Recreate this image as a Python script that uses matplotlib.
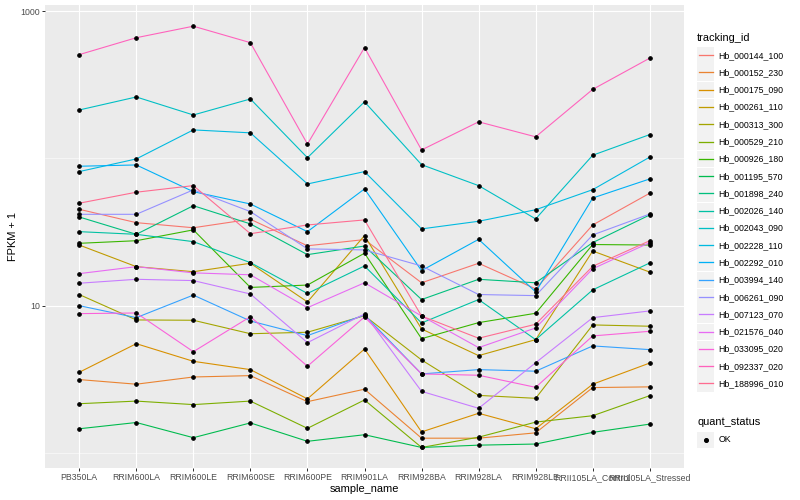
import numpy as np
import matplotlib
matplotlib.use("Agg")
import matplotlib.pyplot as plt
from matplotlib.lines import Line2D
from matplotlib.patches import Rectangle
from matplotlib.legend_handler import HandlerBase
from matplotlib.ticker import NullFormatter

plt.rcParams['font.family'] = ['Liberation Sans', 'DejaVu Sans']

samples = ["PB350LA", "RRIM600LA", "RRIM600LE", "RRIM600SE", "RRIM600PE", "RRIM901LA",
           "RRIM928BA", "RRIM928LA", "RRIM928LE", "RRII105LA_Control", "RRII105LA_Stressed"]

tracking_ids = ["Hb_000144_100", "Hb_000152_230", "Hb_000175_090", "Hb_000261_110",
                "Hb_000313_300", "Hb_000529_210", "Hb_000926_180", "Hb_001195_570",
                "Hb_001898_240", "Hb_002026_140", "Hb_002043_090", "Hb_002228_110",
                "Hb_002292_010", "Hb_003994_140", "Hb_006261_090", "Hb_007123_070",
                "Hb_021576_040", "Hb_033095_020", "Hb_092337_020", "Hb_188996_010"]

# FPKM + 1 per gene, same order as samples
hb_000144_100 = [45.1, 36.6, 33.8, 38.6, 25.5, 28.1, 14.3, 19.4, 13.0, 35.3, 58.0]
hb_000152_230 = [3.15, 2.93, 3.28, 3.35, 2.23, 2.71, 1.26, 1.26, 1.37, 2.78, 2.81]
hb_000175_090 = [3.53, 5.52, 4.19, 3.68, 2.33, 5.08, 1.39, 1.86, 1.46, 2.93, 4.08]
hb_000261_110 = [25.8, 18.4, 17.0, 19.4, 10.6, 29.9, 6.95, 4.58, 5.88, 23.5, 16.9]
hb_000313_300 = [11.9, 8.0, 7.96, 6.45, 6.60, 8.55, 4.28, 2.46, 2.35, 7.40, 7.25]
hb_000529_210 = [2.16, 2.25, 2.13, 2.25, 1.47, 2.29, 1.09, 1.28, 1.62, 1.79, 2.45]
hb_000926_180 = [26.5, 27.6, 32.7, 13.3, 13.8, 22.7, 5.97, 7.67, 8.88, 26.0, 25.8]
hb_001195_570 = [1.46, 1.61, 1.27, 1.60, 1.20, 1.33, 1.09, 1.13, 1.15, 1.38, 1.57]
hb_001898_240 = [40.0, 30.5, 47.7, 35.9, 22.2, 25.4, 11.0, 15.1, 14.3, 26.8, 41.3]
hb_002026_140 = [31.8, 30.5, 27.2, 19.6, 12.1, 18.6, 7.63, 11.0, 5.88, 12.8, 19.5]
hb_002043_090 = [213, 261, 197, 253, 101, 242, 90.6, 65.3, 38.8, 105, 145]
hb_002228_110 = [81.3, 99.1, 156, 149, 67.0, 81.3, 33.2, 37.4, 44.8, 61.3, 102]
hb_002292_010 = [88.4, 90.2, 59.4, 49.0, 31.8, 62.0, 17.3, 28.2, 12.4, 53.8, 72.5]
hb_003994_140 = [10.0, 8.29, 11.8, 7.87, 6.26, 8.65, 3.44, 3.68, 3.59, 5.33, 5.03]
hb_006261_090 = [41.7, 41.7, 61.1, 43.5, 24.3, 23.9, 18.6, 11.9, 11.7, 30.2, 41.9]
hb_007123_070 = [14.2, 15.1, 14.8, 12.0, 5.61, 8.78, 2.62, 2.01, 4.10, 8.29, 9.21]
hb_021576_040 = [16.5, 18.4, 16.7, 16.2, 9.69, 14.3, 8.51, 5.19, 7.06, 17.8, 26.8]
hb_033095_020 = [8.83, 8.92, 4.87, 8.42, 3.88, 8.38, 3.44, 3.37, 2.79, 6.23, 6.70]
hb_092337_020 = [506, 659, 789, 610, 125, 565, 114, 177, 140, 294, 479]
hb_188996_010 = [49.6, 58.9, 65.3, 30.8, 35.3, 38.2, 8.51, 6.01, 7.48, 18.5, 27.6]

series = [hb_000144_100, hb_000152_230, hb_000175_090, hb_000261_110, hb_000313_300,
          hb_000529_210, hb_000926_180, hb_001195_570, hb_001898_240, hb_002026_140,
          hb_002043_090, hb_002228_110, hb_002292_010, hb_003994_140, hb_006261_090,
          hb_007123_070, hb_021576_040, hb_033095_020, hb_092337_020, hb_188996_010]

quant_status = ["OK"]

# ggplot hue palette, 20 levels
palette = ["#F8766D", "#EA8331", "#D89000", "#C09B00", "#A3A500", "#7CAE00", "#39B600",
           "#00BB4E", "#00BF7D", "#00C1A3", "#00BFC4", "#00BAE0", "#00B0F6", "#35A2FF",
           "#9590FF", "#C77CFF", "#E76BF3", "#FA62DB", "#FF62BC", "#FF6C91"]


class KeyHandler(HandlerBase):
    # grey key box like ggplot legends
    def create_artists(self, legend, orig_handle, xdescent, ydescent, width, height, fontsize, trans):
        bg = Rectangle((-xdescent, -ydescent), width, height - 0.6, facecolor='#F2F2F2',
                       edgecolor='none', transform=trans, zorder=1)
        yc = -ydescent + height / 2
        if orig_handle.get_linestyle() == 'None':
            art = Line2D([-xdescent + width / 2], [yc], ls='none', marker='o', ms=4,
                         color='black', transform=trans, zorder=5)
        else:
            art = Line2D([-xdescent + width * 0.1, -xdescent + width * 0.9], [yc, yc],
                         color=orig_handle.get_color(), lw=1.3, transform=trans, zorder=5)
        return [bg, art]


fig = plt.figure(figsize=(800 / 72, 500 / 72), dpi=72)
ax = fig.add_axes([45 / 800, 32 / 500, 639 / 800, 463 / 500])
ax.set_facecolor('#EBEBEB')

x = np.arange(len(samples))
handles = []
for vals, col in zip(series, palette):
    ln, = ax.plot(x, vals, color=col, lw=1.1, zorder=2)
    handles.append(ln)
for vals in series:
    ax.plot(x, vals, ls='none', marker='o', ms=3.6, color='black', zorder=3)

ax.set_yscale('log')
ax.set_ylim(10 ** -0.102, 10 ** 3.041)
ax.set_xlim(-0.6, 10.6)
ax.set_xticks(x, samples)
ax.set_yticks([10, 1000], ['10', '1000'])
ax.set_yticks([1, 100], minor=True)
ax.yaxis.set_minor_formatter(NullFormatter())
ax.grid(which='major', color='white', lw=1.1)
ax.grid(which='minor', axis='y', color='white', lw=0.55)
ax.set_axisbelow(True)
ax.tick_params(which='major', length=2.75, width=1.0, color='#333333',
               labelsize=8.8, labelcolor='#4D4D4D', pad=2)
ax.tick_params(which='minor', length=0)
for s in ax.spines.values():
    s.set_visible(False)
ax.set_xlabel('sample_name', fontsize=11, labelpad=2)
ax.set_ylabel('FPKM + 1', fontsize=11, labelpad=3)

hmap = {Line2D: KeyHandler()}
# handleheight chosen so each key row is ~17.3 px tall
key_h = 2.644
leg1 = fig.legend(handles, tracking_ids, loc='upper left', bbox_to_anchor=(697 / 800, 1 - 33 / 500),
                  frameon=False, fontsize=8.8, title='tracking_id', title_fontsize=11,
                  alignment='left', handlelength=1.96, handleheight=key_h, labelspacing=0,
                  handletextpad=0.45, borderpad=0, borderaxespad=0, handler_map=hmap)
leg1._legend_box.sep = 3.5

ok_handles = [Line2D([], [], ls='none', marker='o', color='black') for _ in quant_status]
leg2 = fig.legend(ok_handles, quant_status, loc='upper left', bbox_to_anchor=(697 / 800, 1 - 417 / 500),
                  frameon=False, fontsize=8.8, title='quant_status', title_fontsize=11,
                  alignment='left', handlelength=1.96, handleheight=key_h, labelspacing=0,
                  handletextpad=0.45, borderpad=0, borderaxespad=0, handler_map=hmap)
leg2._legend_box.sep = 4

fig.savefig('out.png', dpi=72)
